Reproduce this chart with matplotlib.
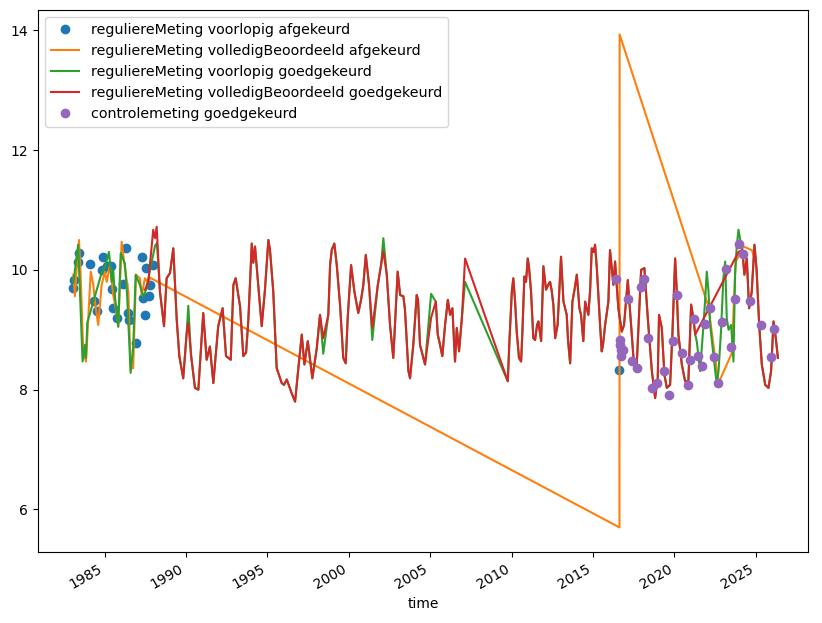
import matplotlib
matplotlib.use("Agg")
import matplotlib.pyplot as plt
import matplotlib.dates as mdates
from datetime import datetime, timedelta

# ---------------- data (decimal years, levels) ----------------
blue_t = [1983.08, 1983.12, 1983.38, 1983.45, 1984.10, 1984.37, 1984.55, 1984.82, 1984.88,
          1985.17, 1985.37, 1985.44, 1985.53, 1985.78, 1986.15, 1986.30, 1986.46, 1986.52,
          1986.93, 1987.28, 1987.38, 1987.48, 1987.54, 1987.75, 1987.79, 1987.99, 2016.62]
blue_v = [9.69, 9.83, 10.14, 10.29, 10.10, 9.48, 9.32, 10.00, 10.21,
          10.06, 10.07, 9.68, 9.36, 9.19, 9.76, 10.36, 9.28, 9.17,
          8.78, 10.22, 9.53, 9.24, 10.03, 9.56, 9.75, 10.08, 8.33]

orange_t = [1983.08, 1983.18, 1983.30, 1983.43, 1983.53, 1983.69, 1983.86, 1984.00, 1984.15,
            1984.31, 1984.41, 1984.61, 1984.82, 1985.02, 1985.13, 1985.33, 1985.53, 1985.68,
            1985.84, 1986.05, 1986.25, 1986.46, 1986.60, 1986.76, 1986.93, 1987.17, 1987.28,
            1987.48, 1987.68, 1987.79, 2016.62, 2016.63, 2022.08, 2022.70, 2023.52, 2023.75,
            2024.23, 2024.75, 2024.98]
orange_v = [9.92, 9.56, 10.08, 10.50, 9.92, 8.64, 8.47, 9.19, 9.97,
            9.75, 9.47, 9.08, 9.75, 9.97, 9.80, 10.08, 9.58, 9.37,
            9.06, 10.47, 10.03, 9.64, 8.36, 8.36, 9.92, 9.86, 9.58,
            9.86, 9.78, 9.87, 5.70, 13.93, 9.39, 8.11, 8.61, 10.13,
            10.39, 10.33, 10.13]

red_t = [1987.48, 1987.68, 1987.99, 1988.10, 1988.20, 1988.40, 1988.65, 1988.81, 1989.02,
         1989.22, 1989.43, 1989.59, 1989.83, 1990.04, 1990.14, 1990.31, 1990.55, 1990.76,
         1991.06, 1991.27, 1991.47, 1991.68, 1991.98, 1992.25, 1992.46, 1992.75, 1992.91,
         1993.05, 1993.32, 1993.52, 1993.69, 1993.83, 1994.04, 1994.13, 1994.24, 1994.34,
         1994.65, 1994.85, 1995.06, 1995.16, 1995.36, 1995.57, 1995.88, 1996.02, 1996.19,
         1996.49, 1996.70, 1996.90, 1997.11, 1997.27, 1997.48, 1997.76, 1998.03, 1998.23,
         1998.43, 1998.74, 1998.85, 1998.95, 1999.11, 1999.26, 1999.46, 1999.66, 1999.81,
         1999.93, 2000.14, 2000.34, 2000.58, 2000.75, 2000.89, 2001.04, 2001.24, 2001.44,
         2001.78, 2001.98, 2002.12, 2002.33, 2002.53, 2002.73, 2003.00, 2003.15, 2003.35,
         2003.45, 2003.66, 2003.76, 2003.96, 2004.17, 2004.25, 2004.37, 2004.68, 2005.05,
         2005.34, 2005.46, 2005.60, 2005.74, 2005.91, 2006.08, 2006.22, 2006.36, 2006.52,
         2006.63, 2006.77, 2006.94, 2007.14, 2009.76, 2009.86, 2010.01, 2010.10, 2010.21,
         2010.31, 2010.45, 2010.58, 2010.66, 2010.78, 2010.88, 2010.99, 2011.07, 2011.19,
         2011.33, 2011.44, 2011.56, 2011.64, 2011.81, 2011.95, 2012.11, 2012.30, 2012.36,
         2012.45, 2012.56, 2012.67, 2012.82, 2013.03, 2013.18, 2013.38, 2013.46, 2013.59,
         2013.73, 2013.86, 2014.00, 2014.16, 2014.26, 2014.40, 2014.51, 2014.71, 2014.82,
         2014.92, 2015.03, 2015.12, 2015.23, 2015.43, 2015.53, 2015.61, 2015.74, 2015.94,
         2016.04, 2016.25, 2016.35, 2016.55, 2016.76, 2016.90, 2017.13, 2017.27, 2017.48,
         2017.68, 2017.95, 2018.15, 2018.36, 2018.61, 2018.81, 2018.97, 2019.05, 2019.22,
         2019.38, 2019.53, 2019.73, 2019.87, 2020.04, 2020.14, 2020.24, 2020.45, 2020.65,
         2020.85, 2021.02, 2021.16, 2021.27, 2023.93, 2024.17, 2024.29, 2024.44, 2024.58,
         2024.74, 2024.91, 2025.04, 2025.20, 2025.36, 2025.57, 2025.77, 2025.93, 2026.08,
         2026.22, 2026.35]
red_v = [9.67, 9.78, 10.67, 10.53, 10.72, 9.64, 9.06, 9.86, 9.95,
         10.36, 9.17, 8.56, 8.19, 8.94, 9.12, 8.58, 8.03, 8.00,
         9.28, 8.50, 8.72, 8.11, 9.06, 9.36, 8.56, 8.50, 9.75,
         9.86, 9.39, 8.56, 8.62, 9.17, 10.44, 10.12, 10.39, 10.06,
         9.06, 9.67, 10.50, 10.33, 9.64, 8.36, 8.11, 8.08, 8.17,
         7.94, 7.80, 8.36, 8.92, 8.42, 8.81, 8.19, 8.69, 9.25,
         8.86, 9.25, 10.08, 10.33, 10.44, 10.08, 9.42, 8.53, 8.44,
         9.19, 10.08, 9.64, 9.28, 9.50, 9.75, 10.25, 9.75, 9.03,
         9.75, 10.08, 10.31, 9.92, 9.08, 8.53, 9.97, 9.58, 9.56,
         9.33, 8.31, 8.19, 8.75, 9.58, 9.50, 8.75, 8.42, 9.20,
         9.47, 8.92, 8.75, 8.56, 9.08, 9.50, 9.25, 9.36, 8.47,
         9.03, 8.64, 9.19, 10.19, 8.14, 8.80, 9.64, 9.86, 9.47,
         8.97, 8.53, 8.47, 8.97, 9.89, 9.80, 10.19, 10.03, 9.64,
         8.86, 8.83, 9.08, 9.14, 8.81, 10.06, 9.67, 9.78, 9.80,
         9.67, 9.42, 8.86, 9.08, 10.22, 9.47, 9.25, 8.83, 8.44,
         9.47, 9.67, 9.92, 9.36, 9.25, 8.81, 9.47, 9.25, 9.67,
         10.36, 10.30, 10.42, 10.03, 9.08, 8.64, 8.75, 9.08, 9.47,
         10.33, 9.75, 10.14, 9.36, 8.97, 9.08, 9.83, 9.31, 8.53,
         8.42, 10.00, 10.03, 9.19, 8.31, 7.86, 8.19, 9.25, 9.03,
         8.25, 8.03, 8.08, 8.92, 10.19, 9.64, 8.92, 8.42, 8.14,
         8.14, 9.42, 9.19, 8.92, 10.30, 10.33, 9.92, 10.19, 9.36,
         9.63, 10.42, 10.00, 9.08, 8.42, 8.08, 8.03, 8.31, 9.14,
         8.86, 8.53]

# green (voorlopig goedgekeurd): own readings early and 2021-2024,
# otherwise the same readings as red, with the places where it differs
green_early_t = [1983.08, 1983.38, 1983.65, 1983.80, 1983.86, 1983.94, 1984.82, 1985.02, 1985.27,
                 1985.44, 1985.53, 1985.64, 1985.84, 1985.99, 1986.25, 1986.39, 1986.60, 1986.76,
                 1986.91, 1987.17, 1987.38, 1987.59, 1987.79, 1988.10, 1988.22]
green_early_v = [9.78, 10.42, 8.47, 8.75, 8.53, 9.12, 9.95, 10.05, 10.30,
                 9.80, 10.00, 9.55, 9.05, 10.28, 10.10, 9.55, 8.28, 8.72,
                 9.92, 9.75, 9.55, 9.70, 10.00, 10.40, 10.45]
green_late_t = [2021.37, 2021.57, 2021.78, 2021.88, 2021.98, 2022.08, 2022.19, 2022.39, 2022.60,
                2022.71, 2022.86, 2023.00, 2023.11, 2023.21, 2023.32, 2023.48, 2023.62, 2023.72,
                2023.83, 2023.93, 2024.09]
green_late_v = [8.80, 8.31, 9.08, 9.50, 9.97, 9.67, 9.08, 8.58, 8.08,
                8.33, 9.00, 9.86, 10.14, 9.19, 9.00, 9.08, 8.47, 9.92,
                10.42, 10.67, 10.42]
green_diff_t = [1990.14, 1998.43, 2001.44, 2002.12, 2005.05, 2007.14]
green_diff_v = [9.40, 8.60, 8.83, 10.53, 9.60, 9.80]

purple_t = [2016.41, 2017.17, 2016.66, 2016.66, 2016.72, 2016.86, 2016.72, 2017.41, 2017.68,
            2017.95, 2018.15, 2018.40, 2018.61, 2018.91, 2019.38, 2019.67, 2019.93, 2020.18,
            2020.45, 2020.85, 2020.92, 2021.22, 2021.43, 2021.68, 2021.90, 2022.21, 2022.45,
            2022.70, 2022.94, 2023.17, 2023.50, 2023.74, 2023.94, 2024.18, 2024.66, 2025.28,
            2025.93, 2026.14]
purple_v = [9.85, 9.52, 8.83, 8.75, 8.67, 8.67, 8.56, 8.48, 8.36,
            9.71, 9.85, 8.86, 8.02, 8.11, 8.32, 7.91, 8.82, 9.58,
            8.61, 8.08, 8.50, 9.18, 8.57, 8.39, 9.10, 9.36, 8.54,
            8.11, 9.13, 10.01, 8.72, 9.52, 10.43, 10.26, 9.48, 9.08,
            8.54, 9.02]

labels = ["regulierеMeting voorlopig afgekeurd".replace("е", "e"),
          "regulierеMeting volledigBeoordeeld afgekeurd".replace("е", "e"),
          "regulierеMeting voorlopig goedgekeurd".replace("е", "e"),
          "regulierеMeting volledigBeoordeeld goedgekeurd".replace("е", "e"),
          "controlemeting goedgekeurd"]


def to_dt(y):
    yr = int(y)
    start = datetime(yr, 1, 1)
    days = (datetime(yr + 1, 1, 1) - start).days
    return start + timedelta(days=(y - yr) * days)


def dts(lst):
    return [to_dt(v) for v in lst]


# assemble green series
diff = dict(zip(green_diff_t, green_diff_v))
green_t = list(green_early_t)
green_v = list(green_early_v)
for t, v in zip(red_t, red_v):
    if 1988.3 < t < 2021.3:
        green_t.append(t)
        green_v.append(diff.get(t, v))
green_t += green_late_t
green_v += green_late_v
for t, v in zip(red_t, red_v):
    if t > 2024.1:
        green_t.append(t)
        green_v.append(v)

fig = plt.figure(figsize=(8.22, 6.23), dpi=100)
ax = fig.add_axes([0.0462, 0.114, 0.937, 0.870])

ax.plot(dts(blue_t), blue_v, "o", color="C0", label=labels[0])
ax.plot(dts(orange_t), orange_v, "-", color="C1", label=labels[1])
ax.plot(dts(green_t), green_v, "-", color="C2", label=labels[2])
ax.plot(dts(red_t), red_v, "-", color="C3", label=labels[3])
ax.plot(dts(purple_t), purple_v, "o", color="C4", label=labels[4])

ax.set_xlim(to_dt(1980.91), to_dt(2028.21))
ax.set_ylim(5.29, 14.34)
ax.set_yticks([6, 8, 10, 12, 14])
ax.xaxis.set_major_locator(mdates.YearLocator(5))
ax.xaxis.set_major_formatter(mdates.DateFormatter("%Y"))
for lab in ax.get_xticklabels():
    lab.set_rotation(30)
    lab.set_ha("right")
ax.set_xlabel("time")
ax.legend(loc="upper left", prop={"size": 10.3})

fig.savefig("out.png", dpi=100)
